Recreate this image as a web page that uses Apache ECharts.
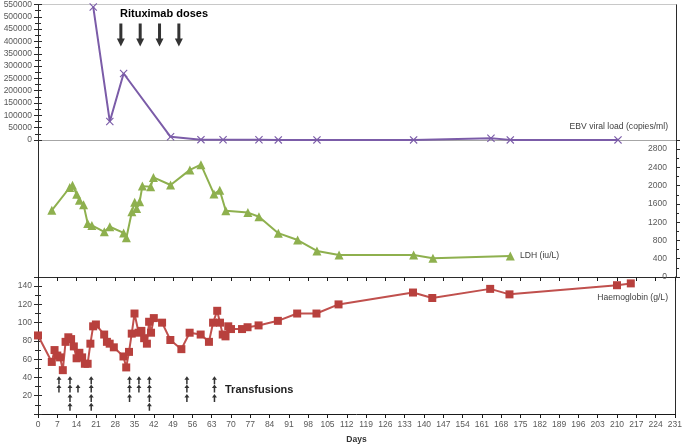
<!DOCTYPE html>
<html><head><meta charset="utf-8">
<script src="https://cdn.jsdelivr.net/npm/echarts@6/dist/echarts.min.js"></script>
<style>html,body{margin:0;padding:0;background:#fff}#c{width:685px;height:445px}</style>
</head><body><div id="c"></div><script>
// ---- data ----
const ebvDays   = [20, 26, 31, 48, 59, 67, 80, 87, 101, 136, 164, 171, 210];
const ebvValues = [540000, 75000, 270000, 13000, 1500, 1000, 800, 500, 500, 500, 7000, 500, 500];

const ldhDays   = [5, 11.5, 12.5, 14, 15, 16.5, 18, 19.5, 24, 26, 31, 32, 34, 35, 35.7, 36.8, 37.8, 40.8, 41.8, 48, 55, 59, 63.7, 65.8, 68, 76, 80, 87, 94, 101, 109, 136, 143, 171];
const ldhValues = [1460, 1960, 2010, 1810, 1680, 1580, 1170, 1130, 990, 1100, 965, 860, 1430, 1635, 1500, 1650, 1990, 1975, 2180, 2015, 2345, 2460, 1820, 1900, 1450, 1410, 1320, 960, 810, 570, 480, 480, 410, 460];

const hbDays   = [0, 5, 6, 7, 8, 9, 10, 11, 12, 13, 14, 15, 16, 17, 18, 19, 20, 21, 24, 25, 26, 27.5, 31, 32, 33, 34, 35, 36.5, 37.5, 38.5, 39.5, 40.3, 41, 42, 45, 48, 52, 55, 59, 62, 63.5, 65, 66, 67, 68, 69, 70, 74, 76, 80, 87, 94, 101, 109, 136, 143, 164, 171, 210, 215];
const hbValues = [86, 57, 70, 64, 62, 48, 79, 84, 82, 74, 61, 67, 62, 55, 55, 77, 96, 98, 87, 79, 77, 73, 63, 51, 68, 88, 110, 89, 91, 83, 77, 101, 89, 105, 100, 81, 71, 89, 87, 79, 100, 113, 100, 87, 85, 96, 93, 93, 95, 97, 102, 110, 110, 120, 133, 127, 137, 131, 141, 143];

const rituximabDays = [30, 37, 44, 51];
const transfusionDays  = [7.6, 11.6, 14.5, 19.3, 33.2, 36.6, 40.4, 54, 64];
const transfusionUnits = [2, 4, 1, 4, 3, 2, 4, 3, 3];
const transfusionStartRow = [0, 0, 1, 0, 0, 0, 0, 0, 0];

const dayTicks = {min: 0, max: 231, interval: 7};
const ebvTicks = {min: 0, max: 550000, interval: 50000};
const ldhTicks = {min: 0, max: 3000, interval: 400};
const hbTicks  = {min: 0, max: 150, interval: 20};

// ---- layout / style ----
const FONT = "'Liberation Sans',Arial,sans-serif";
const LBL = '#595959';
const AX = '#2b2b2b';
const rowLevels = [37, 28, 17.5, 8];   // vertical slots for transfusion arrows (Hb scale)
const arrowMid = 426000;               // vertical centre of rituximab arrows (EBV scale)

const pair = (xs, ys) => xs.map((x, i) => [x, ys[i]]);
const transfusionPts = [];
transfusionDays.forEach((d, i) => {
  for (let k = 0; k < transfusionUnits[i]; k++) transfusionPts.push([d, rowLevels[transfusionStartRow[i] + k]]);
});

const G = {left: 38, right: 9, height: 137};
const xBase = (gi, extra) => Object.assign({
  type: 'value', gridIndex: gi, min: dayTicks.min, max: dayTicks.max, interval: dayTicks.interval,
  splitLine: {show: false}, axisLabel: {show: false}, axisTick: {show: false},
  axisLine: {show: true, onZero: false, lineStyle: {color: AX, width: 1}}
}, extra);
const dummyY = (gi, pos, color) => ({
  type: 'value', gridIndex: gi, position: pos, min: 0, max: 1,
  axisLine: {show: true, onZero: false, lineStyle: {color: color || AX}},
  axisTick: {show: false}, axisLabel: {show: false}, splitLine: {show: false}
});
// same scale, inner half of the crossing tick marks
const innerTicksY = (gi, pos, t) => ({
  type: 'value', gridIndex: gi, position: pos, min: t.min, max: t.max, interval: t.interval,
  axisLine: {show: false, onZero: false}, axisLabel: {show: false}, splitLine: {show: false},
  axisTick: {show: true, inside: true, length: 4, lineStyle: {color: AX}},
  minorTick: {show: true, splitNumber: 2, length: 3, lineStyle: {color: AX}}
});
const yMain = (gi, pos, t, labelExtra) => ({
  type: 'value', gridIndex: gi, position: pos, min: t.min, max: t.max, interval: t.interval,
  axisLine: {show: true, onZero: false, lineStyle: {color: AX}},
  axisTick: {show: true, length: 4, lineStyle: {color: AX}},
  minorTick: {show: true, splitNumber: 2, length: 3, lineStyle: {color: AX}},
  axisLabel: Object.assign({color: LBL, fontSize: 8.5, fontFamily: FONT, margin: 6}, labelExtra),
  splitLine: {show: false}
});

const chart = echarts.init(document.getElementById('c'), null, {renderer: 'canvas'});
chart.setOption({
  animation: false,
  backgroundColor: '#fff',
  grid: [
    Object.assign({top: 3}, G),
    Object.assign({top: 140}, G),
    Object.assign({top: 277}, G)
  ],
  xAxis: [
    xBase(0, {axisLine: {show: true, onZero: false, lineStyle: {color: '#a6a6a6'}}}),
    xBase(1, {}),
    xBase(2, {
      axisLine: {show: true, onZero: false, lineStyle: {color: '#1a1a1a'}},
      axisTick: {show: true, length: 4, lineStyle: {color: '#1a1a1a'}},
      axisLabel: {show: true, color: LBL, fontSize: 8.5, fontFamily: FONT, margin: 6},
      name: 'Days', nameLocation: 'middle', nameGap: 21,
      nameTextStyle: {fontWeight: 'bold', fontSize: 8.5, color: '#333', fontFamily: FONT}
    }),
    xBase(0, {position: 'top', axisLine: {show: true, onZero: false, lineStyle: {color: '#c8c8c8'}}}),
    xBase(2, {axisLine: {show: false, onZero: false},
      axisTick: {show: true, inside: true, length: 4, lineStyle: {color: '#1a1a1a'}}})
  ],
  yAxis: [
    yMain(0, 'left', ebvTicks, {formatter: v => String(v)}),
    yMain(1, 'right', ldhTicks, {inside: true, margin: 9, formatter: v => (v > 2800 ? '' : String(v))}),
    yMain(2, 'left', hbTicks, {formatter: v => (v === 0 || v > 140 ? '' : String(v))}),
    dummyY(0, 'right'),
    dummyY(1, 'left'),
    dummyY(2, 'right'),
    innerTicksY(0, 'left', ebvTicks),
    innerTicksY(2, 'left', hbTicks)
  ],
  series: [
    {
      name: 'EBV viral load (copies/ml)', type: 'line', xAxisIndex: 0, yAxisIndex: 0,
      data: pair(ebvDays, ebvValues),
      symbol: 'path://M0,1 L1,0 L5,4 L9,0 L10,1 L6,5 L10,9 L9,10 L5,6 L1,10 L0,9 L4,5 Z',
      symbolSize: 8, lineStyle: {color: '#7b5ca8', width: 2}, itemStyle: {color: '#7b5ca8'}
    },
    {
      name: 'LDH (iu/L)', type: 'line', xAxisIndex: 1, yAxisIndex: 1,
      data: pair(ldhDays, ldhValues),
      symbol: 'triangle', symbolSize: 9,
      lineStyle: {color: '#8eb04e', width: 2}, itemStyle: {color: '#8eb04e'}
    },
    {
      name: 'Haemoglobin (g/L)', type: 'line', xAxisIndex: 2, yAxisIndex: 2,
      data: pair(hbDays, hbValues),
      symbol: 'rect', symbolSize: 8,
      lineStyle: {color: '#c0504d', width: 2}, itemStyle: {color: '#b8403d'}
    },
    {
      name: 'Rituximab', type: 'scatter', xAxisIndex: 0, yAxisIndex: 0,
      data: rituximabDays.map(d => [d, arrowMid]),
      symbol: 'path://M2.5,0 L5.5,0 L5.5,15 L8,15 L4,23 L0,15 L2.5,15 Z',
      symbolSize: [8, 23], symbolKeepAspect: false, itemStyle: {color: '#000'}, silent: true
    },
    {
      name: 'Transfusions', type: 'scatter', xAxisIndex: 2, yAxisIndex: 2,
      data: transfusionPts,
      symbol: 'path://M5,0 L10,7 L6.5,7 L6.5,16 L3.5,16 L3.5,7 L0,7 Z',
      symbolSize: [5, 8], itemStyle: {color: '#000'}, silent: true
    }
  ],
  graphic: [
    {type: 'text', x: 120, y: 14, style: {text: 'Rituximab doses', font: 'bold 11px "Liberation Sans", Arial', fill: '#000', textVerticalAlign: 'middle'}},
    {type: 'text', x: 225, y: 390, style: {text: 'Transfusions', font: 'bold 11px "Liberation Sans", Arial', fill: '#222', textVerticalAlign: 'middle'}},
    {type: 'text', x: 668, y: 127, style: {text: 'EBV viral load (copies/ml)', font: '8.6px ' + FONT, fill: '#404040', textAlign: 'right', textVerticalAlign: 'middle'}},
    {type: 'text', x: 520, y: 256, style: {text: 'LDH (iu/L)', font: '8.6px ' + FONT, fill: '#404040', textVerticalAlign: 'middle'}},
    {type: 'text', x: 668, y: 298, style: {text: 'Haemoglobin (g/L)', font: '8.6px ' + FONT, fill: '#404040', textAlign: 'right', textVerticalAlign: 'middle'}}
  ]
});
</script></body></html>
